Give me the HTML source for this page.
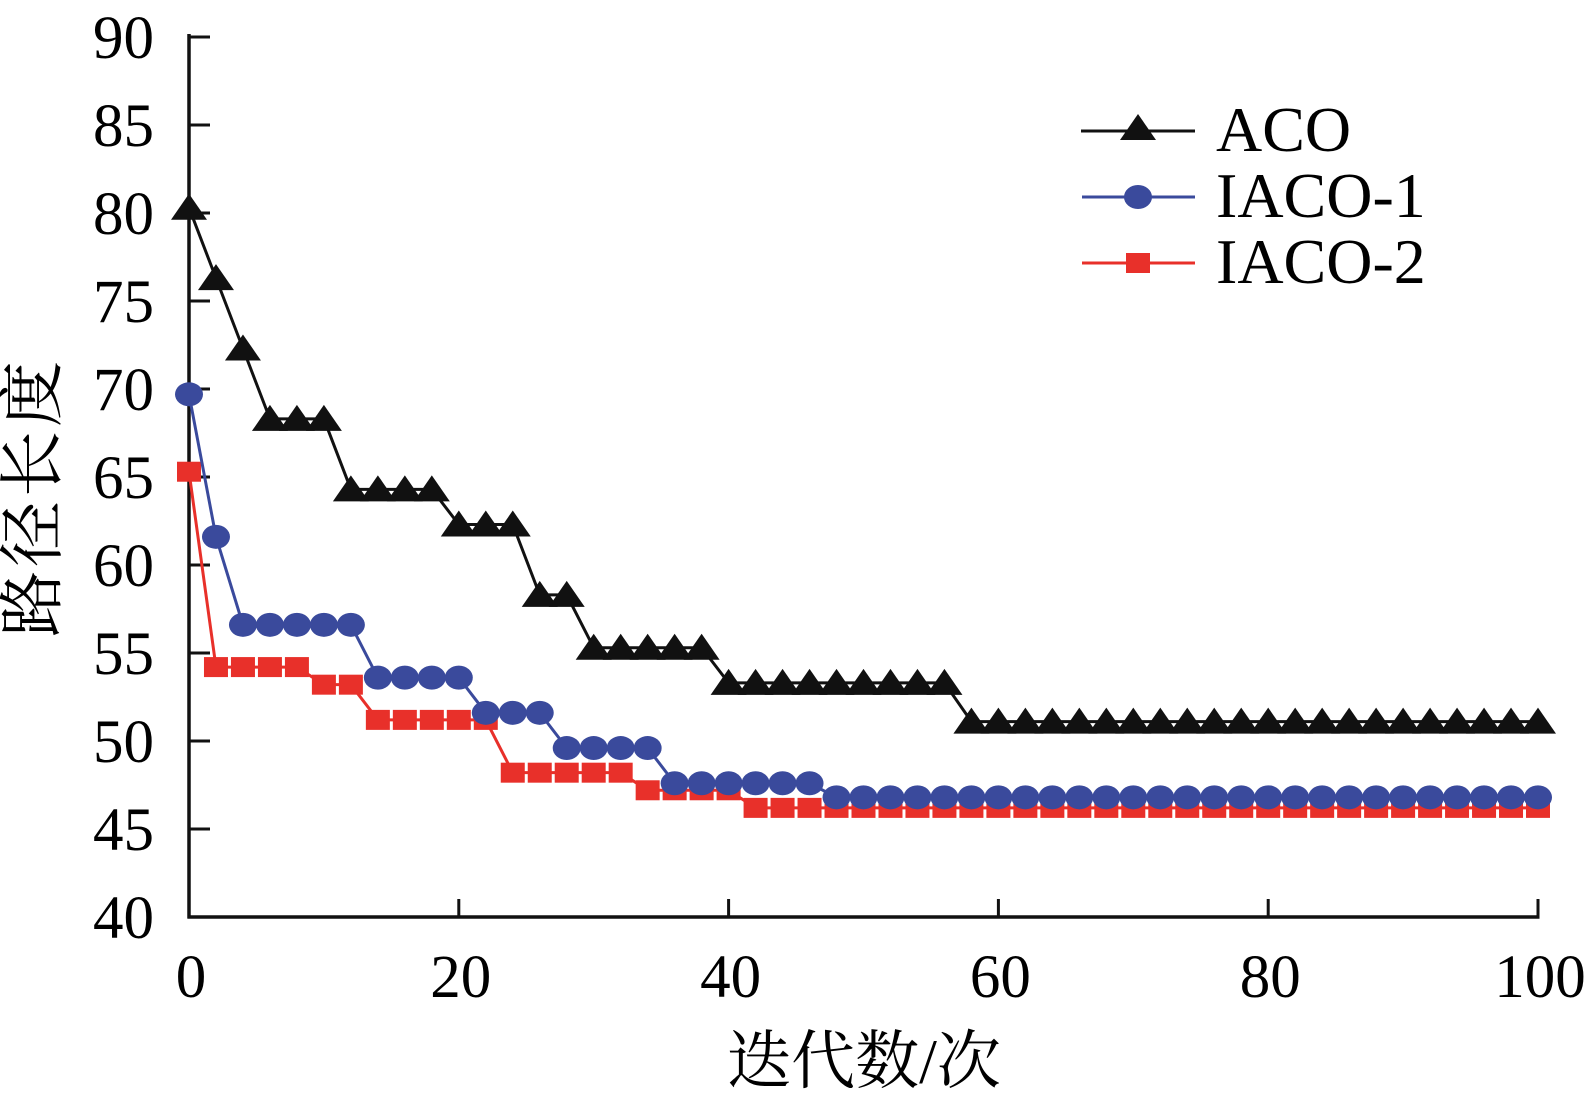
<!DOCTYPE html>
<html><head><meta charset="utf-8"><style>
html,body{margin:0;padding:0;background:#fff;}
svg{display:block;}
text{font-family:"Liberation Serif","Noto Serif CJK SC",serif;fill:#000;}
</style></head><body>
<svg id="s" width="1591" height="1102" xmlns="http://www.w3.org/2000/svg"></svg>
<script>
const X0=189,XS=13.49,Y40=917,YS=17.6;
const px=x=>X0+x*XS, py=y=>Y40-(y-40)*YS;
let h='';
h+=`<line x1="${X0}" y1="34" x2="${X0}" y2="918.5" stroke="#111" stroke-width="3.5"/>`;
h+=`<line x1="${X0-1.5}" y1="${Y40}" x2="${px(100)+1.5}" y2="${Y40}" stroke="#111" stroke-width="3.5"/>`;
for(let v=40;v<=90;v+=5){const y=py(v);
 if(v>40)h+=`<line x1="${X0}" y1="${y}" x2="${X0+21}" y2="${y}" stroke="#111" stroke-width="3"/>`;
 h+=`<text x="154" y="${y+21}" font-size="61" text-anchor="end">${v}</text>`;}
for(let v=0;v<=100;v+=20){const x=px(v);
 if(v>0)h+=`<line x1="${x}" y1="${Y40}" x2="${x}" y2="${Y40-18}" stroke="#111" stroke-width="3"/>`;
 h+=`<text x="${x+2}" y="997" font-size="61" text-anchor="middle">${v}</text>`;}
function steps(arr){const pts=[];arr.forEach(([a,b,v])=>{for(let i=a;i<=b;i+=2)pts.push([i,v]);});return pts;}
const aco=steps([[0,0,80.3],[2,2,76.3],[4,4,72.3],[6,10,68.3],[12,18,64.3],[20,24,62.3],[26,28,58.3],[30,38,55.3],[40,56,53.3],[58,100,51.1]]);
const i1=steps([[0,0,69.7],[2,2,61.6],[4,12,56.6],[14,20,53.6],[22,26,51.6],[28,34,49.6],[36,46,47.6],[48,100,46.8]]);
const i2=steps([[0,0,65.3],[2,8,54.2],[10,12,53.2],[14,22,51.2],[24,32,48.2],[34,40,47.2],[42,100,46.2]]);
function line(p,c){return `<polyline fill="none" stroke="${c}" stroke-width="3" points="${p.map(q=>px(q[0])+','+py(q[1])).join(' ')}"/>`;}
h+=line(i2,'#e8302a');
i2.forEach(q=>{h+=`<rect x="${px(q[0])-12}" y="${py(q[1])-10}" width="24" height="20" fill="#e8302a"/>`;});
h+=line(i1,'#3a4a9c');
i1.forEach(q=>{h+=`<ellipse cx="${px(q[0])}" cy="${py(q[1])}" rx="14" ry="12" fill="#3a4a9c"/>`;});
h+=line(aco,'#111');
aco.forEach(q=>{const x=px(q[0]),y=py(q[1]);h+=`<polygon points="${x-18},${y+12} ${x+18},${y+12} ${x},${y-14}" fill="#111"/>`;});
h+=`<line x1="1081" y1="131" x2="1195" y2="131" stroke="#111" stroke-width="3"/><polygon points="1120,140 1156,140 1138,114" fill="#111"/>`;
h+=`<line x1="1082" y1="197" x2="1195" y2="197" stroke="#3a4a9c" stroke-width="3"/><ellipse cx="1138" cy="197" rx="14" ry="12" fill="#3a4a9c"/>`;
h+=`<line x1="1082" y1="263" x2="1195" y2="263" stroke="#e8302a" stroke-width="3"/><rect x="1126" y="253" width="24" height="20" fill="#e8302a"/>`;
h+=`<text x="1216" y="151" font-size="64">ACO</text>`;
h+=`<text x="1216" y="217" font-size="64">IACO-1</text>`;
h+=`<text x="1216" y="283" font-size="64">IACO-2</text>`;
h+=`<text x="864" y="1083" font-size="64" text-anchor="middle">迭代数/次</text>`;
h+=`<text transform="translate(55,497) rotate(-90)" font-size="66" letter-spacing="4" text-anchor="middle">路径长度</text>`;
document.getElementById('s').innerHTML=h;
</script>
</body></html>
